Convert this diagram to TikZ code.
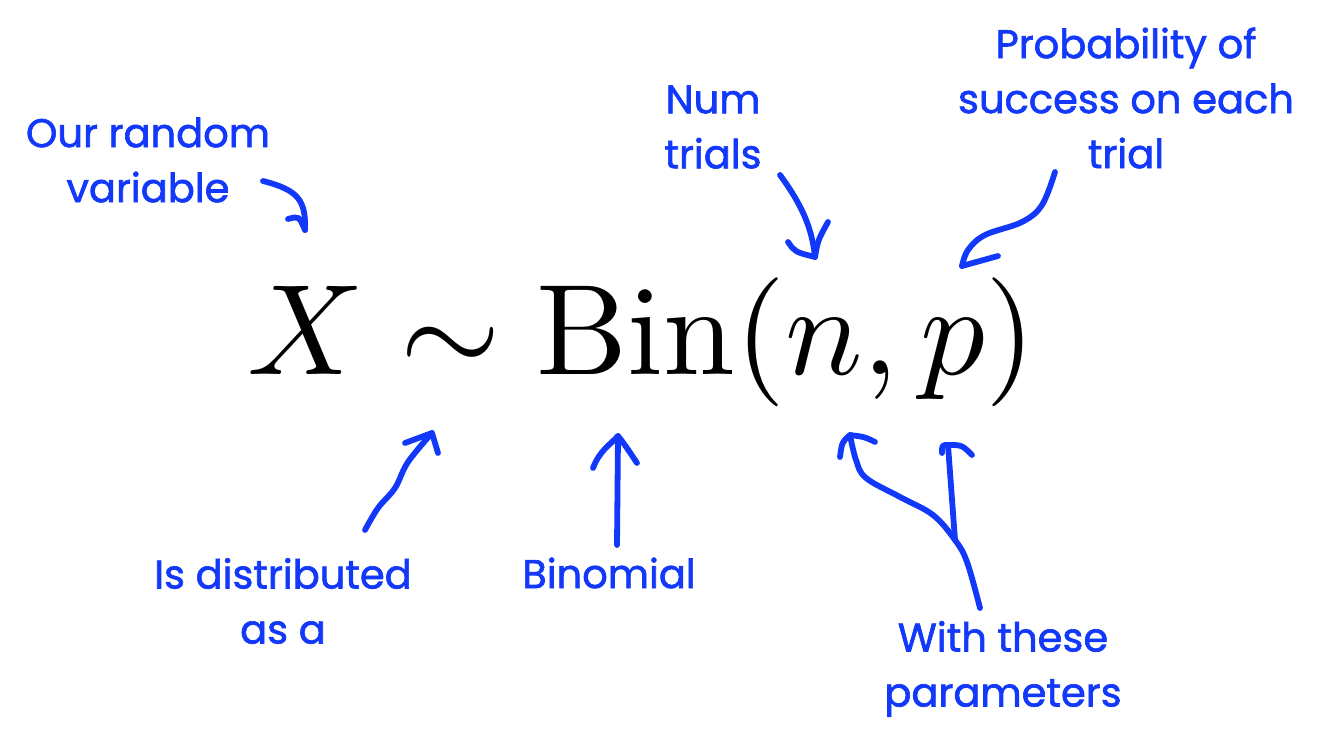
\documentclass[tikz,border=0pt]{standalone}
\usepackage{fontspec}
\newfontfamily\handfont[FakeBold=1.6]{Poppins}
\usetikzlibrary{positioning}
\definecolor{penblue}{RGB}{18,56,250}

\tikzset{
  note/.style={font=\handfont\fontsize{20}{27.5}\selectfont, text=penblue, align=center, inner sep=0pt},
  pen/.style={draw=penblue, line width=2.9pt, line cap=round, line join=round},
}

\begin{document}
\begin{tikzpicture}[x=0.5pt, y=-0.5pt]
    \useasboundingbox (0,0) rectangle (1334,747);
    % the formula
    \node[inner sep=0pt, anchor=base west] (eq) at (247,375) {\scalebox{6.45}{$X \sim \mathrm{Bin}(n,p)$}};

    % annotations
    \node[note] (rv) at (148,160) {Our random\\variable};
    \node[note] (dist) at (283,601) {Is distributed\\as a};
    \node[note] (binom) at (609,573) {Binomial};
    \node[note] (num) at (713,127) {Num\\trials};
    \node[note] (prob) at (1126,98) {Probability of\\success on each\\trial};
    \node[note] (par) at (1003,669) {With these\\parameters};

    % arrow ends
    \coordinate (rvS) at (263,181);   \coordinate (rvT) at (305,230);
    \coordinate (distS) at (365,530); \coordinate (distT) at (432,433);
    \coordinate (binS) at (617,545);  \coordinate (binT) at (618,436);
    \coordinate (numS) at (780,175);  \coordinate (numT) at (815,257);
    \coordinate (probS) at (1055,172); \coordinate (probT) at (962,266);
    \coordinate (parS) at (980,608);  \coordinate (parJ) at (955,540);
    \coordinate (nT) at (850,435);    \coordinate (pT) at (948,445);

    % hand drawn arrows
    \draw[pen] (rvS) .. controls (298,190) and (306,200) .. (rvT);
    \draw[pen] (288,219) .. controls (299,216) .. (rvT);

    \draw[pen] plot[smooth, tension=0.6] coordinates {(distS) (378,508) (395,488) (408,462) (distT)};
    \draw[pen] (405,443) -- (distT) -- (438,453);

    \draw[pen] (binS) -- (binT);
    \draw[pen] (593,468) .. controls (600,450) and (610,445) .. (binT) .. controls (625,445) .. (637,463);

    \draw[pen] (numS) .. controls (802,205) and (812,228) .. (numT);
    \draw[pen] (788,242) .. controls (795,252) .. (numT) .. controls (818,240) .. (828,222);

    \draw[pen] plot[smooth, tension=0.6] coordinates {(probS) (1042,205) (1022,222) (985,235) (968,250) (probT)};
    \draw[pen] (998,256) -- (probT);

    \draw[pen] plot[smooth, tension=0.6] coordinates {(parS) (967,562) (parJ) (933,515) (900,497) (866,478) (856,460) (nT)};
    \draw[pen] (parJ) -- (pT);
    \draw[pen] (840,457) .. controls (842,442) .. (nT) .. controls (865,437) .. (875,442);
    \draw[pen] (942,453) .. controls (942,445) .. (pT) .. controls (962,445) .. (972,455);
\end{tikzpicture}
\end{document}
